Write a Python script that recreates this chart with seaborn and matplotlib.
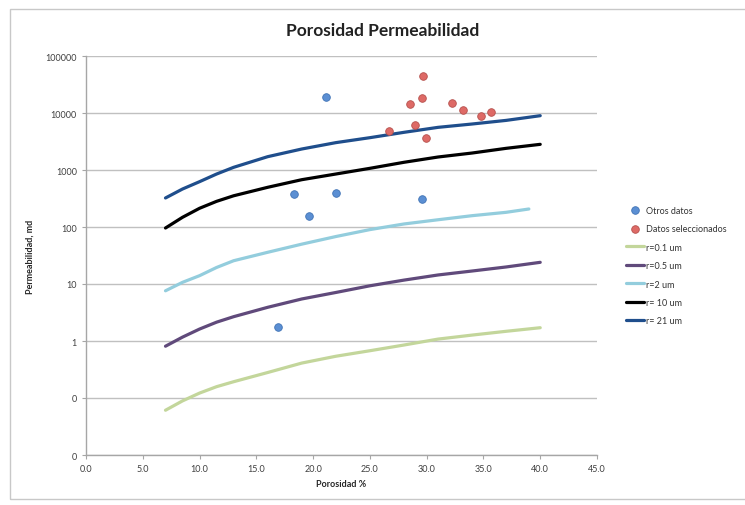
import matplotlib
matplotlib.use('Agg')
import matplotlib.pyplot as plt
import matplotlib.ticker as mticker
from matplotlib.patches import Rectangle
import seaborn as sns
import pandas as pd

# Datos
porosidad_curvas = [7, 8.5, 10, 11.5, 13, 16, 19, 22, 25, 28, 31, 34, 37, 40]
k_r01 = [0.061, 0.089, 0.122, 0.158, 0.193, 0.28, 0.41, 0.54, 0.675, 0.85, 1.08, 1.27, 1.48, 1.71]
k_r05 = [0.81, 1.17, 1.62, 2.14, 2.67, 3.9, 5.46, 7.1, 9.3, 11.7, 14.4, 16.9, 19.9, 24]
porosidad_r2 = [7, 8.5, 10, 11.5, 13, 16, 19, 22, 25, 28, 31, 34, 37, 39]
k_r2 = [7.6, 10.7, 14.0, 19.5, 25.6, 36, 50, 68, 90, 113, 134, 158, 181, 207]
k_r10 = [96, 148, 213, 282, 353, 497, 676, 850, 1070, 1365, 1690, 1985, 2400, 2820]
k_r21 = [323, 464, 624, 850, 1114, 1713, 2335, 3020, 3690, 4580, 5600, 6410, 7420, 8970]

otros_por = [21.1, 18.3, 19.6, 22.0, 29.6, 16.9]
otros_k = [19300, 384, 158, 400, 306, 1.78]

selec_por = [29.7, 29.6, 28.5, 32.2, 33.2, 34.8, 35.7, 26.7, 29.0, 29.9]
selec_k = [45100, 18300, 14200, 14800, 11300, 8700, 10400, 4900, 6090, 3640]

curvas = [
    ('r=0.1 um', porosidad_curvas, k_r01, '#c3d69b'),
    ('r=0.5 um', porosidad_curvas, k_r05, '#604a7b'),
    ('r=2 um', porosidad_r2, k_r2, '#93cddd'),
    ('r= 10 um', porosidad_curvas, k_r10, '#000000'),
    ('r= 21 um', porosidad_curvas, k_r21, '#1f4e8c'),
]

sns.set_style('white')
plt.rcParams['font.family'] = ['Lato', 'DejaVu Sans']

fig = plt.figure(figsize=(7.45, 5.06), dpi=100)
ax = fig.add_axes([86 / 745, 1 - 456 / 506, (597 - 86) / 745, (456 - 57) / 506])

# marco del grafico
fig.patches.append(Rectangle((10 / 745, 6 / 506), 740 / 745, 490 / 506,
                             transform=fig.transFigure, fill=False,
                             edgecolor='#c8c8c8', linewidth=1.0))

sns.scatterplot(x=otros_por, y=otros_k, ax=ax, color='#5b8fd3', s=30,
                edgecolor='#3f72b5', linewidth=0.6, label='Otros datos', zorder=5)
sns.scatterplot(x=selec_por, y=selec_k, ax=ax, color='#de6a66', s=30,
                edgecolor='#b5504c', linewidth=0.6, label='Datos seleccionados', zorder=5)

for nombre, xs, ys, color in curvas:
    df = pd.DataFrame({'porosidad': xs, 'k': ys})
    sns.lineplot(data=df, x='porosidad', y='k', ax=ax, color=color,
                 linewidth=2.3, label=nombre, zorder=3)

ax.set_yscale('log')
ax.set_ylim(0.01, 100000)
ax.set_xlim(0, 45)
ax.set_xticks(range(0, 46, 5))
ax.xaxis.set_major_formatter(mticker.FuncFormatter(lambda v, p: f'{v:.1f}'))
ax.set_yticks([0.01, 0.1, 1, 10, 100, 1000, 10000, 100000])
ax.yaxis.set_major_formatter(mticker.FuncFormatter(lambda v, p: f'{v:.0f}'))
ax.yaxis.set_minor_locator(mticker.NullLocator())

ax.grid(axis='y', color='#c0c0c0', linewidth=1.0)
ax.grid(axis='x', visible=False)
ax.set_axisbelow(True)
for lado in ['top', 'right']:
    ax.spines[lado].set_visible(False)
for lado in ['left', 'bottom']:
    ax.spines[lado].set_color('#a6a6a6')
    ax.spines[lado].set_linewidth(1.0)
ax.tick_params(axis='both', labelsize=6.5, colors='#404040', length=3,
               width=0.8, direction='out', left=True, bottom=True)
ax.tick_params(axis='both', color='#a6a6a6')

ax.set_xlabel('Porosidad %', fontsize=6.5, fontweight='bold', labelpad=4)
ax.set_ylabel('Permeabilidad, md', fontsize=6.5, fontweight='bold', labelpad=8)

fig.text(383 / 745, 1 - 31 / 506, 'Porosidad Permeabilidad', ha='center',
         va='center', fontsize=12.5, fontweight='bold', color='#222222')

leg = ax.legend(loc='upper left', bbox_to_anchor=(622 / 745, 1 - 203 / 506),
                bbox_transform=fig.transFigure, frameon=False, fontsize=6.5,
                handlelength=2.0, handletextpad=0.3, labelspacing=1.05,
                borderaxespad=0)
for t in leg.get_texts():
    t.set_color('#333333')

fig.savefig('out.png', dpi=100)
